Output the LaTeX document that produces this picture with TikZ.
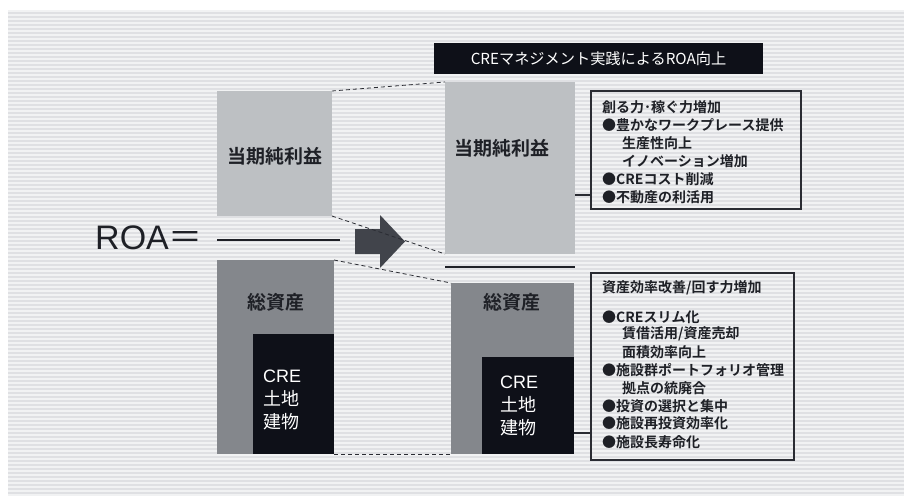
\documentclass[tikz,border=0pt]{standalone}
\usepackage{fontspec}
\setmainfont{Liberation Sans}
\newfontfamily\jp{Noto Sans CJK JP}[BoldFont={Noto Sans CJK JP Bold}]
\definecolor{bgbase}{HTML}{DFE0E3}
\definecolor{bgstripe}{HTML}{F1F2F3}
\definecolor{lgray}{HTML}{BDC0C3}
\definecolor{mgray}{HTML}{84878C}
\definecolor{nblack}{HTML}{0E1018}
\definecolor{arrowc}{HTML}{41444B}
\definecolor{ink}{HTML}{1E2026}
\definecolor{frame}{HTML}{2A2C33}
\tikzset{
  blockbox/.style={draw=none, inner sep=0pt, outer sep=0pt},
  lightbox/.style={blockbox, fill=lgray},
  midbox/.style={blockbox, fill=mgray},
  darkbox/.style={blockbox, fill=nblack},
  textframe/.style={draw=frame, line width=1.2pt, fill=none, inner sep=0pt},
  bigjp/.style={font=\jp\bfseries\fontsize{19}{19}\selectfont, text=ink, inner sep=0pt},
  whitejp/.style={font=\jp\fontsize{18}{23}\selectfont, text=white, align=left, inner sep=0pt},
  boxtext/.style={font=\jp\bfseries\fontsize{14}{18}\selectfont, text=ink, inner sep=0pt, anchor=west},
  dashline/.style={draw=frame, line width=0.8pt, dash pattern=on 4pt off 3pt},
  barline/.style={draw=ink, line width=1.3pt},
  connline/.style={draw=frame, line width=1.2pt}
}
\begin{document}
\begin{tikzpicture}[x=1pt,y=-1pt]
\useasboundingbox (0,0) rectangle (904,495);
% background
\fill[white] (0,0) rectangle (904,495);
\fill[bgbase] (8,10) rectangle (904,495);
\foreach \yy in {11,15,...,495} \draw[bgstripe, line width=1.8pt] (8,\yy) -- (904,\yy);

% title
\node[fill=nblack, minimum width=329pt, minimum height=31pt, inner sep=0pt] (title) at (598.5,58.5)
  {\jp\fontsize{15.2}{15.2}\selectfont\color{white}CREマネジメント実践によるROA向上};

% ROA
\node[anchor=west, inner sep=0pt, text=ink] (roa) at (95,238)
  {\fontsize{34}{34}\selectfont ROA{\jp ＝}};

% left side
\node[lightbox, minimum width=115pt, minimum height=125pt] (np1) at (274.5,153.5) {};
\node[bigjp] (np1t) at (275,156) {当期純利益};
\coordinate (bar1a) at (217,240);
\coordinate (bar1b) at (340,240);
\draw[barline] (bar1a) -- (bar1b);
\node[midbox, minimum width=117pt, minimum height=194pt] (ta1) at (275.5,357) {};
\node[darkbox, minimum width=81pt, minimum height=120pt] (cre1) at (293.5,394) {};
\node[bigjp] (ta1t) at (275.5,302) {総資産};
\node[whitejp, anchor=west] (cre1t) at (263,400) {{\rmfamily CRE}\\土地\\建物};

% arrow
\fill[arrowc] (355,229) -- (380,229) -- (380,215) -- (405,241.5) -- (380,268) -- (380,254) -- (355,254) -- cycle;

% right side
\node[lightbox, minimum width=130pt, minimum height=172pt] (np2) at (510,168) {};
\node[bigjp] (np2t) at (502,148) {当期純利益};
\coordinate (bar2a) at (445,267);
\coordinate (bar2b) at (575,267);
\draw[barline] (bar2a) -- (bar2b);
\node[midbox, minimum width=123pt, minimum height=171pt] (ta2) at (512.5,368.5) {};
\node[darkbox, minimum width=92pt, minimum height=97pt] (cre2) at (528,405.5) {};
\node[bigjp] (ta2t) at (512,302) {総資産};
\node[whitejp, anchor=west] (cre2t) at (500,406) {{\rmfamily CRE}\\土地\\建物};

% dashed projection lines
\draw[dashline] (np1.north east) -- (np2.north west);
\draw[dashline] (np1.south east) -- (np2.south west);
\draw[dashline] (ta1.north east) -- (ta2.north west);
\draw[dashline] (ta1.south east) -- (ta2.south west);

% text boxes
\node[textframe, minimum width=210pt, minimum height=118pt] (tbox) at (696,150) {};
\node[textframe, minimum width=203pt, minimum height=187pt] (bbox) at (692.5,366.5) {};

\coordinate (c1) at (575,195);
\draw[connline] (c1) -- (c1 -| tbox.west);
\coordinate (c2) at (574,433);
\draw[connline] (c2) -- (c2 -| bbox.west);

\foreach \txt/\yy/\xx [count=\i] in {
  {創る力･稼ぐ力増加}/107/602,
  {●豊かなワークプレース提供}/125/602,
  {生産性向上}/143/622,
  {イノベーション増加}/161/622,
  {●CREコスト削減}/179/602,
  {●不動産の利活用}/197/602}
  \node[boxtext] (tt\i) at (\xx,\yy) {\txt};

\foreach \txt/\yy/\xx [count=\i] in {
  {資産効率改善/回す力増加}/288/602,
  {●CREスリム化}/317/602,
  {賃借活用/資産売却}/334/622,
  {面積効率向上}/352/622,
  {●施設群ポートフォリオ管理}/370/602,
  {拠点の統廃合}/388/622,
  {●投資の選択と集中}/406/602,
  {●施設再投資効率化}/423/602,
  {●施設長寿命化}/442/602}
  \node[boxtext] (bt\i) at (\xx,\yy) {\txt};
\end{tikzpicture}
\end{document}
